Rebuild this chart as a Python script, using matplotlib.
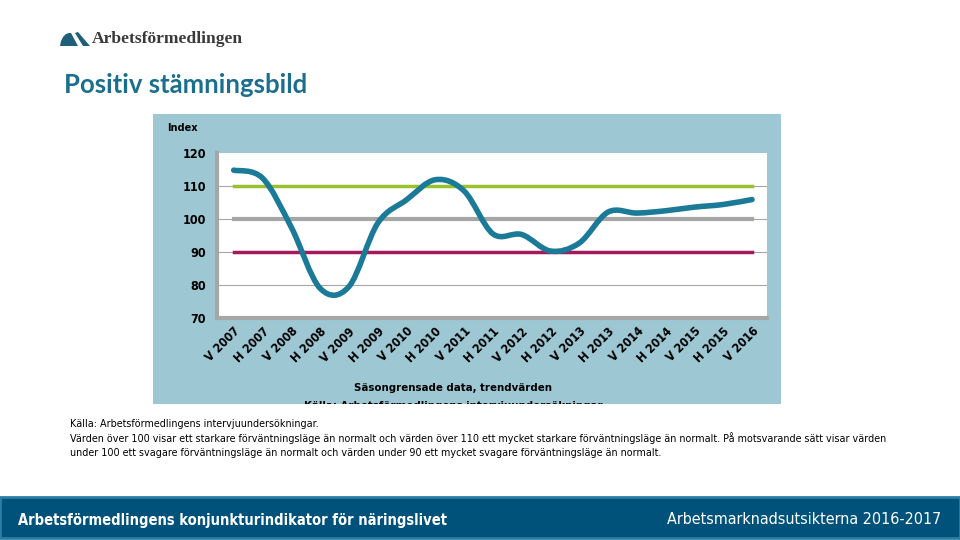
import numpy as np
import matplotlib.pyplot as plt
from matplotlib.path import Path
from matplotlib.patches import PathPatch, Rectangle, Polygon

labels = ['V 2007', 'H 2007', 'V 2008', 'H 2008', 'V 2009', 'H 2009', 'V 2010',
          'H 2010', 'V 2011', 'H 2011', 'V 2012', 'H 2012', 'V 2013', 'H 2013',
          'V 2014', 'H 2014', 'V 2015', 'H 2015', 'V 2016']
index_values = [114.8, 112.4, 97.5, 79.0, 79.5, 98.7, 105.8, 111.9, 108.5, 95.5,
                95.3, 90.3, 92.7, 102.1, 101.8, 102.5, 103.6, 104.4, 105.9]
level_strong = 110
level_normal = 100
level_weak = 90
yticks = [70, 80, 90, 100, 110, 120]

narrow = ['Liberation Sans Narrow', 'DejaVu Sans']
teal = '#1a7a98'
panel = '#9dc7d3'


def fx(px):
    return px / 960


def fy(py):
    return 1 - py / 540


fig = plt.figure(figsize=(9.6, 5.4), dpi=100)

# chart panel background
panel_rect = Rectangle((fx(153), fy(404)), fx(628), 290 / 540,
                       transform=fig.transFigure, facecolor=panel,
                       edgecolor='none', zorder=0)
fig.add_artist(panel_rect)

ax = fig.add_axes([fx(217), fy(318), fx(550), 165 / 540])
ax.set_zorder(2)
ax.set_facecolor('white')
x = np.arange(len(labels))
ax.set_xlim(-0.58, len(labels) - 1 + 0.52)
ax.set_ylim(70, 120)

for v in [80, 90, 100, 110]:
    ax.axhline(v, color='#a6a6a6', lw=0.8, zorder=1)
ax.plot([x[0], x[-1]], [level_normal] * 2, color='#a6a6a6', lw=3, zorder=2)
ax.plot([x[0], x[-1]], [level_strong] * 2, color='#9bc12e', lw=2.5, zorder=2)
ax.plot([x[0], x[-1]], [level_weak] * 2, color='#a3195b', lw=2.5, zorder=2)

# smoothed line like the spreadsheet's smooth option
y = np.array(index_values)
verts = [(x[0], y[0])]
codes = [Path.MOVETO]
for i in range(len(x) - 1):
    x0, y0 = (x[i - 1], y[i - 1]) if i > 0 else (x[i], y[i])
    x3, y3 = (x[i + 2], y[i + 2]) if i + 2 < len(x) else (x[i + 1], y[i + 1])
    c1 = (x[i] + (x[i + 1] - x0) / 6, y[i] + (y[i + 1] - y0) / 6)
    c2 = (x[i + 1] - (x3 - x[i]) / 6, y[i + 1] - (y3 - y[i]) / 6)
    verts += [c1, c2, (x[i + 1], y[i + 1])]
    codes += [Path.CURVE4] * 3
ax.add_patch(PathPatch(Path(verts, codes), facecolor='none', edgecolor=teal,
                       lw=4, zorder=3, capstyle='round', joinstyle='round'))

for s in ['top', 'right']:
    ax.spines[s].set_visible(False)
ax.spines['left'].set_color('#a6a6a6')
ax.spines['left'].set_linewidth(3)
ax.spines['bottom'].set_color('#a6a6a6')
ax.spines['bottom'].set_linewidth(3)

ax.set_yticks(yticks)
ax.set_yticklabels([str(t) for t in yticks], family=narrow, fontsize=9,
                   fontweight='bold', fontstretch='condensed')
ax.tick_params(axis='y', length=0, pad=8)
ax.set_xticks(x)
ax.set_xticklabels(labels, rotation=45, ha='right', rotation_mode='anchor',
                   family=narrow, fontsize=8.8, fontweight='bold',
                   fontstretch='condensed')
ax.tick_params(axis='x', length=0, pad=5)

fig.text(fx(167), fy(128), 'Index', family=narrow, fontsize=7.8,
         fontweight='bold', fontstretch='condensed', va='center')
fig.text(fx(453), fy(388), 'Säsongrensade data, trendvärden',
         family=narrow, fontsize=8.2, fontweight='bold', fontstretch='condensed',
         ha='center', va='center')
t = fig.text(fx(453), fy(406),
             'Källa: Arbetsförmedlingens intervjuundersökningar',
             family=narrow, fontsize=8.2, fontweight='bold',
             fontstretch='condensed', ha='center', va='center')
t.set_clip_path(panel_rect)

# header
fig.text(fx(64), fy(85), 'Positiv stämningsbild', family='Lato',
         fontsize=18.5, fontweight='bold', color='#1b6f8e', va='center')
logo_left = [(60, 46), (61, 41), (63, 37), (66, 34), (69, 33), (71, 33), (78, 46)]
logo_right = [(75, 33), (78, 32), (90, 46), (83, 46)]
for shape in [logo_left, logo_right]:
    fig.add_artist(Polygon([(fx(a), fy(b)) for a, b in shape],
                           transform=fig.transFigure, facecolor='#1f5f7a',
                           edgecolor='none'))
fig.text(fx(92), fy(39), 'Arbetsförmedlingen', family='Liberation Serif',
         fontsize=12.6, fontweight='bold', color='#3a3a3a', va='center')

# source notes
notes = ['Källa: Arbetsförmedlingens intervjuundersökningar.',
         'Värden över 100 visar ett starkare förväntningsläge än normalt och värden över 110 '
         'ett mycket starkare förväntningsläge än normalt. På motsvarande sätt visar värden',
         'under 100 ett svagare förväntningsläge än normalt och värden under 90 ett mycket '
         'svagare förväntningsläge än normalt.']
for i, line in enumerate(notes):
    fig.text(fx(70), fy(424 + i * 14.5), line, family=narrow,
             fontsize=6.9, va='center')

# footer band
fig.add_artist(Rectangle((0, 2 / 540), 1, 41 / 540, transform=fig.transFigure,
                         facecolor='#00527a', edgecolor='#2b7ea3', lw=2))
fig.text(fx(18), fy(520), 'Arbetsförmedlingens konjunkturindikator för näringslivet',
         family=narrow, fontsize=10.5, fontweight='bold', fontstretch='condensed',
         color='white', va='center')
fig.text(fx(941), fy(520), 'Arbetsmarknadsutsikterna 2016-2017',
         family=narrow, fontsize=11.5, fontstretch='condensed', color='white',
         va='center', ha='right')

fig.savefig('out.png', dpi=100)
